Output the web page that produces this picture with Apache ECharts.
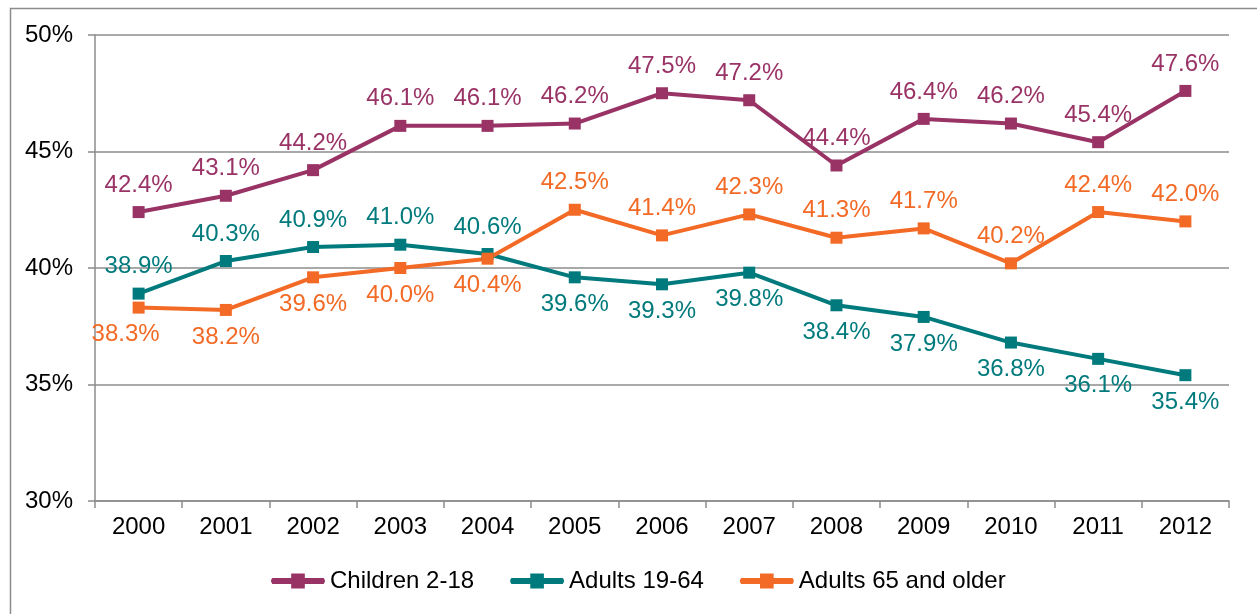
<!DOCTYPE html>
<html><head><meta charset="utf-8">
<script src="https://cdn.jsdelivr.net/npm/echarts@6/dist/echarts.min.js"></script>
<style>html,body{margin:0;padding:0;background:#fff}#c{width:1257px;height:614px}</style>
</head><body><div id="c"></div>
<script>
const years = ['2000','2001','2002','2003','2004','2005','2006','2007','2008','2009','2010','2011','2012'];
const children = [42.4, 43.1, 44.2, 46.1, 46.1, 46.2, 47.5, 47.2, 44.4, 46.4, 46.2, 45.4, 47.6];
const adults1964 = [38.9, 40.3, 40.9, 41.0, 40.6, 39.6, 39.3, 39.8, 38.4, 37.9, 36.8, 36.1, 35.4];
const adults65 = [38.3, 38.2, 39.6, 40.0, 40.4, 42.5, 41.4, 42.3, 41.3, 41.7, 40.2, 42.4, 42.0];
const seriesNames = ['Children 2-18', 'Adults 19-64', 'Adults 65 and older'];
const colors = ['#993366', '#007A7C', '#F26A25'];
const tealBelowFrom = 5;   // label placement index switches
const orangeAboveFrom = 5;

const FONT = 'Liberation Sans, Arial, sans-serif';
const FS = 24;
function lbl(color, pos, offset) {
  const o = {show: true, position: pos, distance: 9, color: color, fontSize: FS, fontFamily: FONT,
    formatter: p => p.value.toFixed(1) + '%'};
  if (offset) o.offset = offset;
  return o;
}
function mk(vals, color, posFn, offsets) {
  return vals.map((v, i) => ({value: v, label: lbl(color, posFn(i), offsets && offsets[i])}));
}
const legendIcon = 'path://M2.5,5L51.5,5Q54,7.5 51.5,10L2.5,10Q0,7.5 2.5,5Z M20.5,1L33.5,1L33.5,14L20.5,14Z';
const chart = echarts.init(document.getElementById('c'));
chart.setOption({
  animation: false,
  graphic: [{type: 'rect', left: 8, top: 6, shape: {width: 1400, height: 800},
    style: {fill: 'none', stroke: '#8c8c8c', lineWidth: 1.5}, z: -1}],
  grid: {left: 95, right: 28, top: 35, bottom: 113, containLabel: false},
  legend: {left: 266, top: 564, itemWidth: 54, itemHeight: 15, itemGap: 36,
    icon: legendIcon, symbolKeepAspect: false,
    itemStyle: {borderWidth: 0},
    textStyle: {fontSize: FS, fontFamily: FONT, color: '#000'},
    data: seriesNames},
  xAxis: {type: 'category', data: years, boundaryGap: true,
    axisLine: {lineStyle: {color: '#8c8c8c', width: 1.5}},
    axisTick: {show: true, length: 7, lineStyle: {color: '#8c8c8c', width: 1.5}},
    axisLabel: {fontSize: FS, fontFamily: FONT, color: '#000', margin: 14}},
  yAxis: {type: 'value', min: 30, max: 50, interval: 5,
    axisLine: {show: true, lineStyle: {color: '#8c8c8c', width: 1.5}},
    axisTick: {show: true, length: 7, lineStyle: {color: '#8c8c8c', width: 1.5}},
    splitLine: {lineStyle: {color: '#8c8c8c', width: 1.5}},
    axisLabel: {fontSize: FS, fontFamily: FONT, color: '#000', margin: 22, formatter: v => v + '%'}},
  series: [
    {name: seriesNames[0], type: 'line', color: colors[0], symbol: 'rect', symbolSize: 12,
      lineStyle: {width: 4}, data: mk(children, colors[0], () => 'top')},
    {name: seriesNames[1], type: 'line', color: colors[1], symbol: 'rect', symbolSize: 12,
      lineStyle: {width: 4}, data: mk(adults1964, colors[1], i => i < tealBelowFrom ? 'top' : 'bottom')},
    {name: seriesNames[2], type: 'line', color: colors[2], symbol: 'rect', symbolSize: 12,
      lineStyle: {width: 4}, data: mk(adults65, colors[2], i => i < orangeAboveFrom ? 'bottom' : 'top', {0: [-13, 0]})}
  ]
});
</script></body></html>
